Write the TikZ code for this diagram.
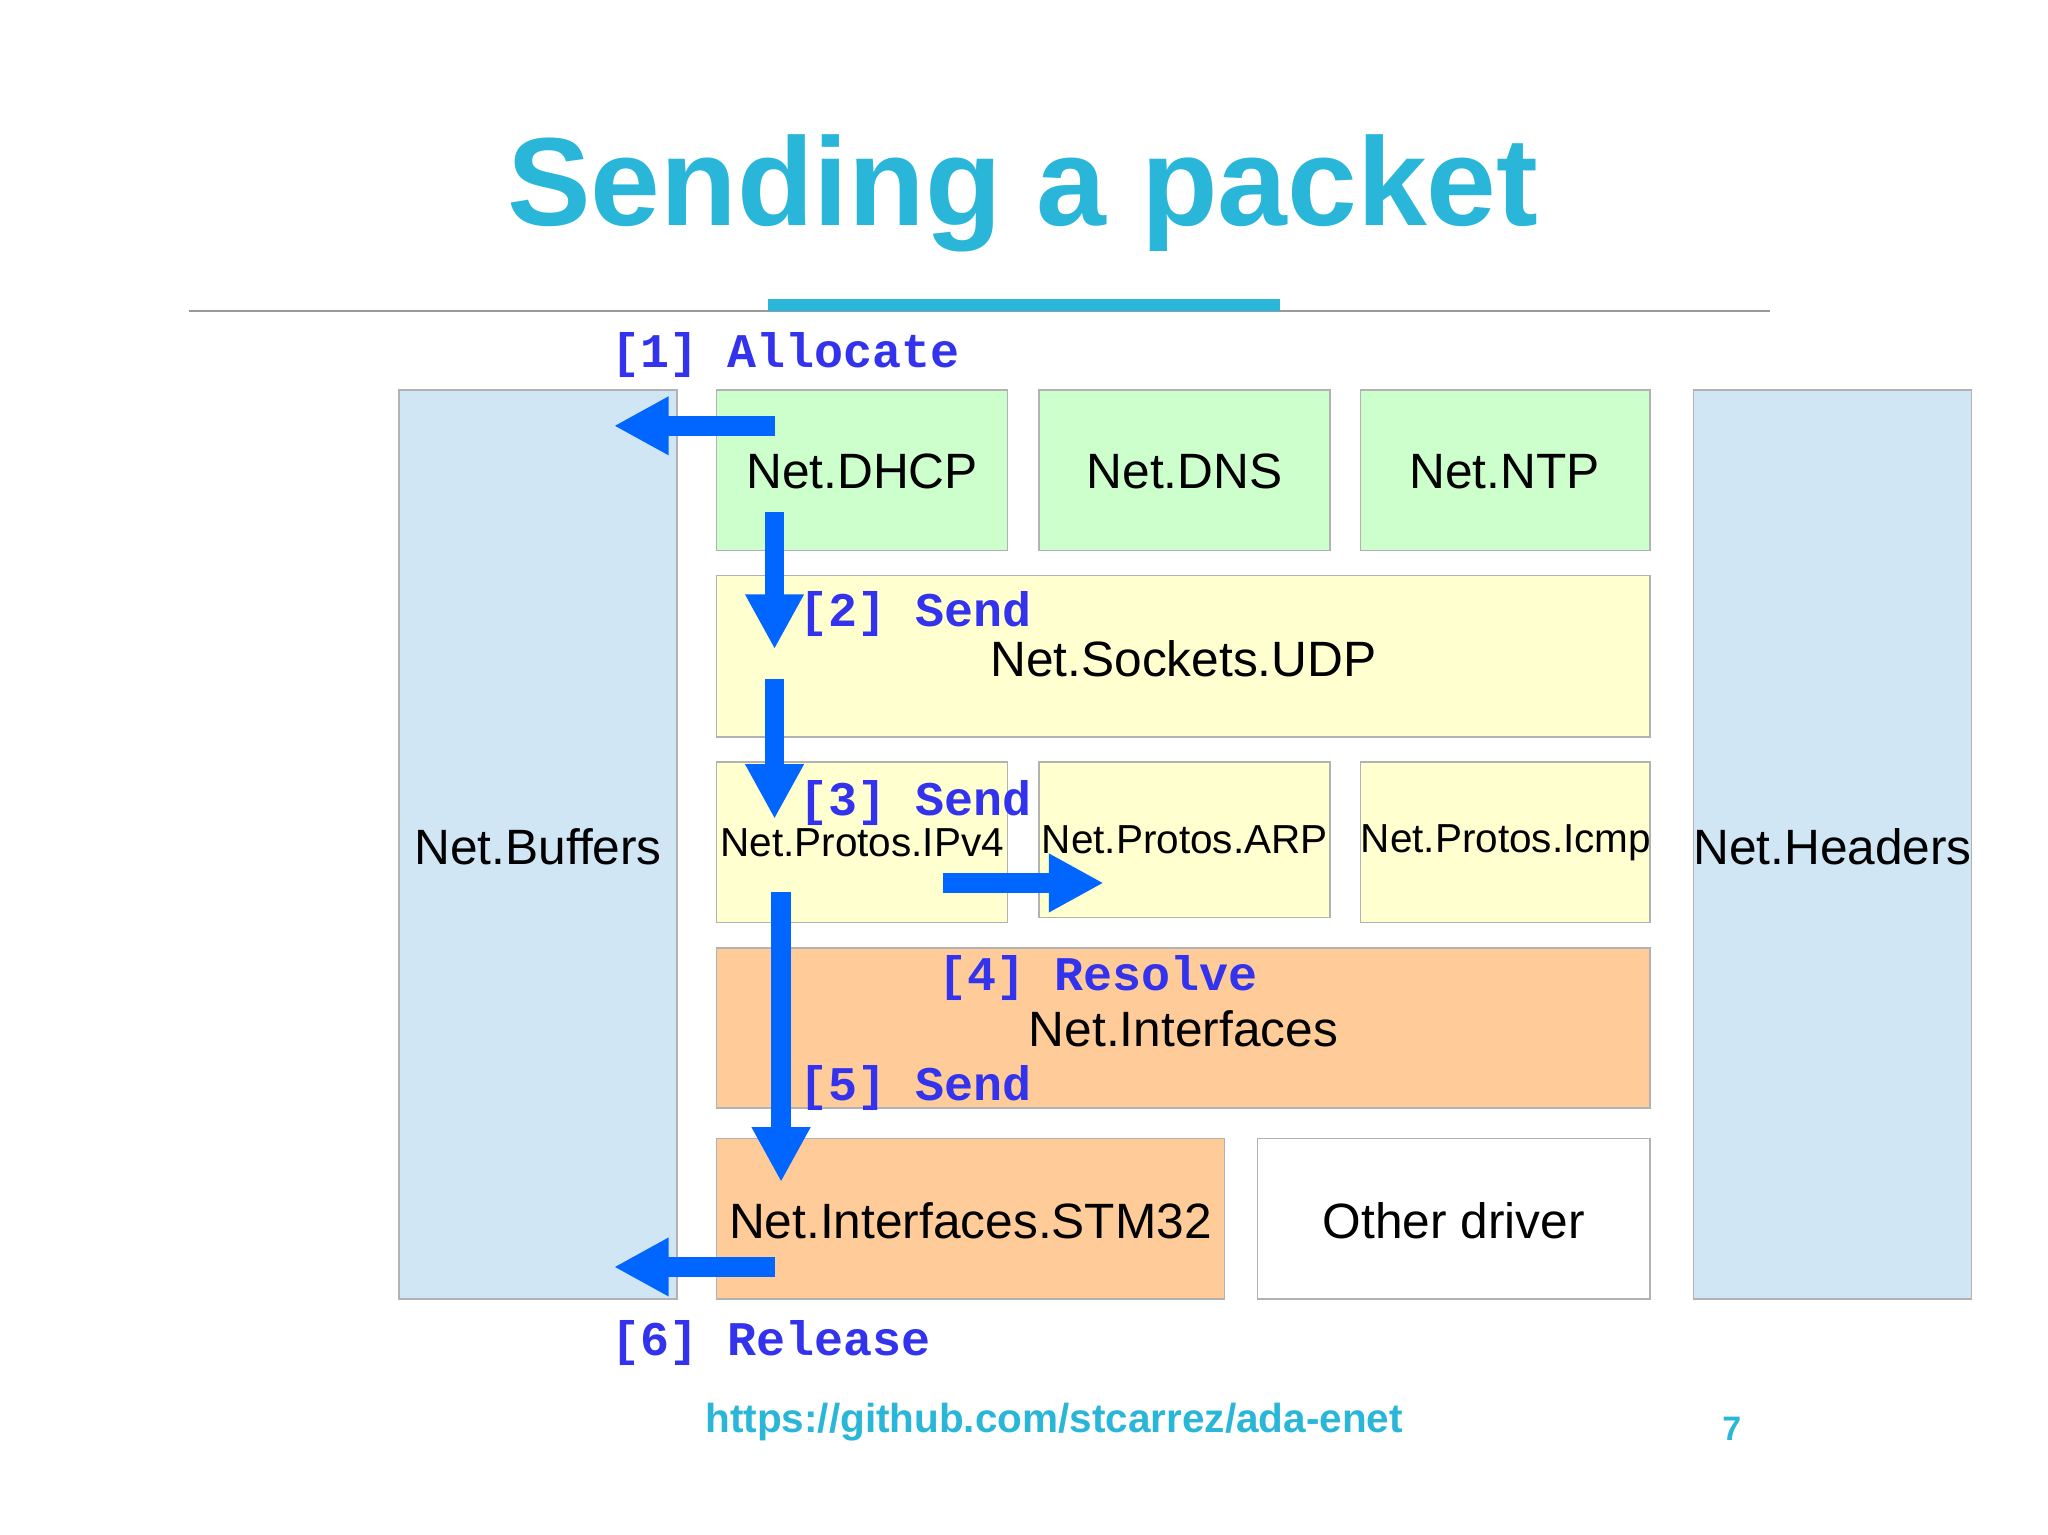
\documentclass[tikz,border=0pt]{standalone}
\usepackage{fontspec}
\setmainfont{Liberation Sans}
\newfontfamily\monob{Liberation Mono}[BoldFont=* Bold]
\usetikzlibrary{arrows.meta}
\definecolor{ttl}{HTML}{29B6D9}
\definecolor{lbl}{HTML}{3333EE}
\definecolor{arr}{HTML}{0066FF}
\definecolor{bbl}{HTML}{D0E6F5}
\definecolor{grn}{HTML}{CCFFCC}
\definecolor{yel}{HTML}{FFFFD0}
\definecolor{org}{HTML}{FFCC99}
\begin{document}
\begin{tikzpicture}[x=0.5pt,y=-0.5pt,
 box/.style={draw=black!30,line width=0.6pt,inner sep=0pt,font=\fontsize{19}{22}\selectfont},
 small/.style={font=\fontsize{15.5}{18}\selectfont},
 lab/.style={text=lbl,anchor=west,inner sep=0pt,font=\monob\bfseries\fontsize{18.5}{20}\selectfont},
 ar/.style={draw=arr,line width=7.5pt,-{Triangle[length=21pt,width=21pt]}}]
\useasboundingbox (0,0) rectangle (1568,1175);
\node[font=\bfseries\fontsize{48}{54}\selectfont,text=ttl] (title) at (783,148) {Sending a packet};
\draw[black!40,line width=0.8pt] (145,238) -- (1355,238);
\fill[ttl] (588,229) rectangle (980,238);
\newcommand{\bx}[6]{\node[box,fill=#6,minimum width=#4*0.5pt-0.6pt,minimum height=#5*0.5pt-0.6pt,anchor=north west] (#1) at (#2,#3) {};}
\bx{buf}{305}{298}{214}{697}{bbl}
\bx{hdr}{1296}{298}{214}{697}{bbl}
\bx{dhcp}{548}{298}{224}{124}{grn}
\bx{dns}{795}{298}{224}{124}{grn}
\bx{ntp}{1041}{298}{223}{124}{grn}
\bx{udp}{548}{440}{716}{125}{yel}
\bx{ipv4}{548}{583}{224}{124}{yel}
\bx{arp}{795}{583}{224}{120}{yel}
\bx{icmp}{1041}{583}{223}{124}{yel}
\bx{ifs}{548}{725}{716}{124}{org}
\bx{stm}{548}{871}{390}{124}{org}
\bx{oth}{962}{871}{302}{124}{white}
\path[box,draw=none] (412,648) node {Net.Buffers} (1403,648) node {Net.Headers}
 (660,361) node {Net.DHCP} (907,361) node {Net.DNS} (1152,361) node {Net.NTP}
 (906,504) node {Net.Sockets.UDP} (906,788) node {Net.Interfaces}
 (743,935) node {Net.Interfaces.STM32} (1113,935) node {Other driver};
\path[small] (660,645) node {Net.Protos.IPv4} (907,643) node {Net.Protos.ARP} (1153,645) node {Net.Protos.Icmp};
\node[lab] (l1) at (468,272) {[1] Allocate};
\node[lab] (l2) at (612,470) {[2] Send};
\node[lab] (l3) at (612,615) {[3] Send};
\node[lab] (l4) at (718,749) {[4] Resolve};
\node[lab] (l5) at (612,833) {[5] Send};
\node[lab] (l6) at (468,1028) {[6] Release};
\coordinate (a1s) at (593,326); \coordinate (a1e) at (470,326);
\coordinate (a2s) at (593,392); \coordinate (a2e) at (593,497);
\coordinate (a3s) at (593,520); \coordinate (a3e) at (593,627);
\coordinate (a4s) at (722,676); \coordinate (a4e) at (845,676);
\coordinate (a5s) at (598,683); \coordinate (a5e) at (598,905);
\coordinate (a6s) at (593,970); \coordinate (a6e) at (470,970);
\foreach \i in {1,...,6} \draw[ar] (a\i s) -- (a\i e);
\node[text=ttl,font=\bfseries\fontsize{15.5}{18}\selectfont] (url) at (807,1089) {https://github.com/stcarrez/ada-enet};
\node[text=ttl,font=\bfseries\fontsize{13}{15}\selectfont] (pg) at (1326,1094) {7};
\end{tikzpicture}
\end{document}
